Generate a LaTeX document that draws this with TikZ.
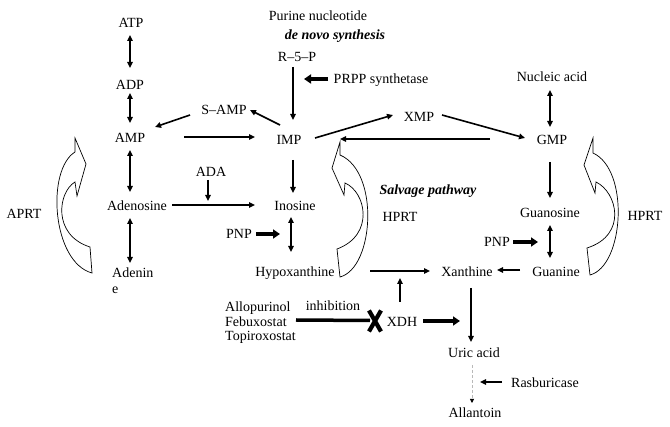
\documentclass[tikz,border=0pt]{standalone}
\usepackage{fontspec}
\setmainfont{Liberation Serif}
\usetikzlibrary{arrows.meta,calc}
\begin{document}
\begin{tikzpicture}[x=1pt,y=-1pt,
  lbl/.style={inner sep=1pt, text height=9.5pt, text depth=0pt, font=\fontsize{14}{16}\selectfont},
  mlbl/.style={inner sep=1pt, align=left, font=\fontsize{14}{14.5}\selectfont},
  dbl/.style={line width=1.8pt, {Triangle[length=6pt,width=5.5pt]}-{Triangle[length=6pt,width=5.5pt]}},
  arr/.style={line width=1.6pt, -{Triangle[length=6pt,width=5.5pt]}},
  tarr/.style={line width=3.5pt, -{Triangle[length=7pt,width=9pt]}},
  hollow/.style={draw=black, line width=0.7pt, fill=white, line join=miter},
]
\useasboundingbox (0,0) rectangle (670,427);

% hollow curved arrows
\draw[hollow] (75,138) -- (86,164) -- (77,196) -- (75,182)
  .. controls (58,192) and (52,235) .. (90,247) -- (92,273)
  .. controls (52,262) and (46,170) .. (75,152) -- cycle;
\draw[hollow] (340,142) -- (332,168) -- (344,195) -- (345,183)
  .. controls (366,192) and (375,235) .. (337,249) -- (340,277)
  .. controls (374,268) and (380,172) .. (340,155) -- cycle;
\draw[hollow] (593,138) -- (584,165) -- (595,193) -- (596,182)
  .. controls (617,192) and (628,235) .. (587,248) -- (590,275)
  .. controls (624,266) and (630,170) .. (593,153) -- cycle;

% nodes
\node[lbl] (purine) at (318,16) {Purine nucleotide};
\node[lbl] (denovo) at (335,35) {\textbf{\textit{de novo synthesis}}};
\node[lbl] (atp) at (131,23) {ATP};
\node[lbl] (adp) at (130,85) {ADP};
\node[lbl] (amp) at (130,138) {AMP};
\node[lbl] (adenosine) at (137,206) {Adenosine};
\node[inner sep=1pt, align=left, font=\fontsize{14}{16}\selectfont, anchor=north west] (adenine) at (111,267) {Adenin\\e};
\node[lbl] (samp) at (224,110) {S--AMP};
\node[lbl] (imp) at (289,140) {IMP};
\node[lbl] (r5p) at (297,57) {R--5--P};
\node[lbl] (prpp) at (381,79) {PRPP synthetase};
\node[lbl] (xmp) at (419,117) {XMP};
\node[lbl] (gmp) at (552,140) {GMP};
\node[lbl] (nucleic) at (552,77) {Nucleic acid};
\node[lbl] (guanosine) at (550,213) {Guanosine};
\node[lbl] (pnpr) at (497,242) {PNP};
\node[lbl] (guanine) at (556,272) {Guanine};
\node[lbl] (xanthine) at (467,272) {Xanthine};
\node[lbl] (hprtr) at (645,216) {HPRT};
\node[lbl] (aprt) at (24,214) {APRT};
\node[lbl] (ada) at (211,172) {ADA};
\node[lbl] (inosine) at (295,206) {Inosine};
\node[lbl] (pnpl) at (239,234) {PNP};
\node[lbl] (hypox) at (295,272) {Hypoxanthine};
\node[lbl] (salvage) at (428,190) {\textbf{\textit{Salvage pathway}}};
\node[lbl] (hprtm) at (400,217) {HPRT};
\node[lbl] (xdh) at (402,322) {XDH};
\node[lbl] (inhib) at (333,306) {inhibition};
\node[mlbl, anchor=west] (drugs) at (224,323) {Allopurinol\\Febuxostat\\Topiroxostat};
\node[lbl] (uric) at (474,353) {Uric acid};
\node[lbl] (rasb) at (545,383) {Rasburicase};
\node[lbl] (allantoin) at (475,413) {Allantoin};

% free ends
\coordinate (prppend) at (304,79);
\coordinate (pnprend) at (538,242);
\coordinate (adaend) at (208,201);
\coordinate (pnplend) at (280,234);
\coordinate (xdhup) at (400,278);
\coordinate (xdhright) at (460,321);
\coordinate (rasbend) at (480,382);
\coordinate (xm) at (375,320.5);

% connectors
\draw[dbl] ($(atp)+(-1,12)$) -- ($(adp)+(0,-17)$);
\draw[dbl] ($(adp)+(0,8)$) -- ($(amp)+(0,-15)$);
\draw[dbl] ($(amp)+(0,12)$) -- ($(adenosine)+(-7,-14)$);
\draw[dbl] ($(adenosine)+(-7,12)$) -- ($(adenine.north west)+(19,-4)$);
\draw[arr] ($(samp)+(-34,5)$) -- ($(amp)+(25,-11)$);
\draw[arr] ($(amp)+(54,-1)$) -- ($(imp)+(-34,-3)$);
\draw[arr] ($(imp)+(-9,-15)$) -- ($(samp)+(26,0)$);
\draw[arr] ($(r5p)+(-4,10)$) -- ($(imp)+(4,-20)$);
\draw[tarr] ($(prpp)+(-53,0)$) -- (prppend);
\draw[arr] ($(imp)+(26,-2)$) -- ($(xmp)+(-26,-2)$);
\draw[arr] ($(xmp)+(23,-2)$) -- ($(gmp)+(-27,-2)$);
\draw[arr, line width=1.4pt] ($(gmp)+(-62,-1)$) -- ($(imp)+(51,-1)$);
\draw[dbl] ($(nucleic)+(-2,13)$) -- ($(gmp)+(-2,-13)$);
\draw[arr] ($(gmp)+(-2,22)$) -- ($(guanosine)+(0,-15)$);
\draw[dbl] ($(guanosine)+(0,12)$) -- ($(guanine)+(-6,-14)$);
\draw[tarr] ($(pnpr)+(16,0)$) -- (pnprend);
\draw[arr] ($(guanine)+(-36,-2)$) -- ($(xanthine)+(30,-2)$);
\draw[arr] ($(adenosine)+(35,-1)$) -- ($(inosine)+(-40,-1)$);
\draw[arr] ($(ada)+(-3,8)$) -- (adaend);
\draw[arr] ($(imp)+(4,20)$) -- ($(inosine)+(-2,-13)$);
\draw[dbl] ($(inosine)+(-4,11)$) -- ($(hypox)+(-4,-20)$);
\draw[tarr] ($(pnpl)+(17,0)$) -- (pnplend);
\draw[arr] ($(hypox)+(75,-1)$) -- ($(xanthine)+(-37,-1)$);
\draw[arr] ($(xdh)+(-2,-20)$) -- (xdhup);
\draw[tarr] ($(xdh)+(21,-1)$) -- (xdhright);
\draw[line width=3.5pt] ($(drugs.west)+(72,-3)$) -- ($(xm)+(-5,0)$);
\draw[line width=4.2pt, shift={(xm)}] (-6,-10) -- (6,11) (6,-10) -- (-6,11);
\draw[arr] ($(xanthine)+(4,16)$) -- ($(uric)+(-3,-11)$);
\draw[gray!55, line width=0.8pt, dash pattern=on 3pt off 2pt, -{Triangle[length=4pt,width=4pt,color=black]}] ($(uric)+(-2,12)$) -- ($(allantoin)+(-3,-10)$);
\draw[arr, line width=2pt] ($(rasb)+(-43,-1)$) -- (rasbend);
\end{tikzpicture}
\end{document}
